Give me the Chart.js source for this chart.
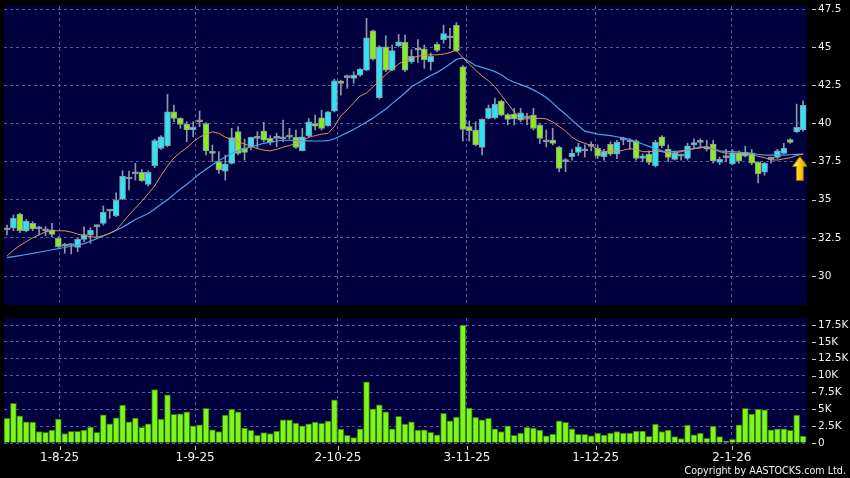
<!DOCTYPE html>
<html><head><meta charset="utf-8">
<script src="https://cdn.jsdelivr.net/npm/chart.js@4.4.1/dist/chart.umd.min.js"></script>
<style>
html,body{margin:0;padding:0;background:#000;width:850px;height:478px;overflow:hidden}
#wrap{position:relative;width:850px;height:478px}
canvas{position:absolute;left:0}
#c1{top:0}
#c2{top:310px}
#copy{position:absolute;right:4px;top:465px;color:#f2f2f2;font:9.6px 'DejaVu Sans',Verdana,sans-serif;line-height:12px;white-space:nowrap}
</style></head><body>
<div id="wrap">
<canvas id="c1" width="850" height="310"></canvas>
<canvas id="c2" width="850" height="168"></canvas>
<div id="copy">Copyright by AASTOCKS.com Ltd.</div>
</div>
<script>
// ---- data ----
const openP = [33.02,33.13,34.06,32.95,33.45,33.10,32.97,33.02,32.47,31.95,32.00,31.88,32.40,32.67,33.24,33.45,34.25,33.95,35.03,36.36,
36.70,36.80,36.01,37.24,38.37,38.54,40.77,40.33,39.94,39.57,40.11,40.00,38.15,37.49,36.88,37.38,39.46,38.37,38.47,39.02,
39.50,39.02,39.02,39.00,39.10,39.09,38.21,39.19,40.00,40.37,39.86,40.81,42.78,43.00,42.96,43.17,43.50,46.08,41.69,45.03,
43.50,45.10,45.32,44.05,44.80,44.89,44.03,45.18,45.50,45.62,46.45,43.72,39.79,39.57,38.43,40.33,40.37,41.47,40.59,40.62,
40.22,40.37,40.55,39.90,38.80,38.91,38.43,37.50,37.82,38.11,38.21,38.50,38.37,37.82,38.65,37.99,38.91,38.80,38.86,37.71,
37.99,37.21,39.13,38.32,37.65,37.86,37.71,38.59,38.76,38.47,38.65,37.45,37.76,37.34,38.04,37.86,38.08,37.45,36.80,37.65,
37.78,38.04,38.95,39.44,39.57];
const highP = [33.34,34.00,34.13,33.71,33.56,33.28,33.24,33.45,32.58,32.14,32.10,32.47,33.23,33.17,33.34,34.59,34.37,35.46,36.90,36.88,
37.39,36.98,36.90,38.97,39.20,41.91,41.21,40.38,40.11,40.11,40.82,40.05,38.59,38.15,37.93,39.68,39.79,38.97,39.10,39.46,
40.07,39.20,39.35,40.22,39.68,39.57,39.68,40.33,40.55,40.88,40.80,42.90,42.85,43.17,43.39,43.60,46.89,46.12,45.10,45.75,
45.14,45.84,45.80,44.84,45.50,45.14,44.62,45.30,46.45,46.23,46.61,43.80,40.16,40.11,40.30,41.21,41.66,41.53,40.65,40.99,
40.99,40.66,40.99,40.00,39.57,39.68,38.50,37.70,38.30,38.70,38.60,38.80,38.60,38.30,38.80,38.90,39.10,39.00,38.95,38.00,
38.20,38.90,39.20,38.60,38.20,38.00,38.70,39.00,39.00,38.90,38.90,37.80,38.30,38.30,38.20,38.50,38.30,37.50,37.45,37.80,
38.30,38.70,39.00,41.27,41.49];
const lowP = [32.69,32.97,32.84,32.90,32.97,32.69,32.63,32.58,31.88,31.49,31.45,31.60,32.25,32.14,32.58,33.34,33.78,33.89,35.00,35.64,
36.29,36.20,35.90,37.10,38.30,38.47,40.11,39.68,38.80,39.13,39.79,37.93,37.49,36.73,36.29,37.34,37.93,37.60,38.26,38.37,
38.80,38.60,38.47,38.80,38.97,38.37,38.20,39.10,39.57,39.57,39.80,40.75,41.86,42.30,42.63,43.10,43.45,44.15,41.60,43.39,
43.45,45.03,43.39,43.94,44.00,43.61,43.50,44.70,45.25,44.92,44.70,38.85,38.85,38.54,37.93,40.30,40.30,40.50,39.90,39.90,
40.11,39.90,39.57,38.69,38.47,38.59,36.84,36.84,37.60,37.90,37.80,38.20,37.70,37.60,37.90,37.70,38.60,38.30,37.60,37.50,
37.30,37.15,38.40,37.50,37.60,37.60,37.60,38.40,38.40,38.20,37.40,37.30,37.50,37.30,37.40,37.80,37.30,36.10,36.60,37.40,
37.70,38.00,38.70,39.40,39.50];
const closeP = [33.02,33.78,32.97,33.60,33.08,33.20,32.97,32.73,31.92,31.95,32.00,32.40,32.71,32.99,33.24,34.17,34.25,34.98,36.53,36.47,
36.70,36.25,36.80,38.88,39.13,40.77,40.33,39.94,39.57,39.74,40.11,38.20,38.04,36.95,37.34,39.08,38.04,38.11,39.09,39.02,
38.90,38.76,39.02,39.00,39.10,38.43,39.13,40.11,39.83,39.68,40.77,42.80,42.63,43.00,43.17,43.57,45.62,44.22,45.03,43.50,
44.77,45.35,43.50,44.40,44.80,44.19,44.40,44.79,45.90,45.62,44.75,39.61,39.53,38.59,40.27,40.99,41.25,40.55,40.27,40.29,
40.70,40.37,39.68,39.02,38.80,38.69,37.06,37.50,38.04,38.47,38.21,38.50,37.86,38.15,37.99,38.76,38.91,38.80,37.71,37.88,
37.45,38.76,38.52,37.78,38.08,37.86,38.54,38.74,38.76,38.32,37.54,37.65,37.76,38.08,37.54,38.11,37.39,36.69,37.39,37.65,
38.21,38.37,38.76,39.74,41.19];
const volumeK = [3.65,5.87,4.04,3.15,3.10,1.68,1.58,1.92,3.55,1.38,1.72,1.72,1.92,2.37,1.58,4.19,2.86,3.75,5.62,3.15,
3.70,2.32,2.86,7.93,3.55,7.15,4.24,4.34,4.63,2.56,2.71,5.13,1.97,1.68,4.14,5.03,4.63,2.22,1.87,1.13,
1.53,1.38,1.77,3.45,3.45,2.96,2.56,2.86,3.10,2.91,3.25,6.41,2.07,1.13,0.79,2.12,9.07,5.08,5.67,4.63,
2.12,3.94,2.81,3.15,1.92,1.97,1.58,1.23,4.39,3.30,3.84,17.50,5.17,3.80,3.45,3.65,2.12,1.68,2.56,1.13,
1.48,2.32,2.22,1.92,1.08,1.33,3.30,3.06,2.12,1.28,1.28,1.08,1.48,1.18,1.48,1.68,1.48,1.48,1.77,1.77,
0.99,2.81,1.68,1.92,0.94,0.64,2.66,1.23,1.48,0.69,2.51,0.94,0.30,0.54,2.71,5.13,4.29,5.03,4.93,1.97,
2.12,2.12,1.87,4.14,1.03];
const maShort = [31.3,31.7,32.0,32.25,32.5,32.7,32.9,32.95,32.97,32.96,32.88,32.75,32.65,32.58,32.54,32.65,32.8,33.0,33.5,34.0,
34.45,34.9,35.4,35.9,36.6,37.2,37.75,38.1,38.4,38.8,39.1,39.3,39.45,39.35,39.1,38.95,38.8,38.65,38.5,38.35,
38.25,38.2,38.3,38.45,38.55,38.7,38.85,39.1,39.2,39.3,39.35,39.8,40.5,40.9,41.35,41.8,42.0,42.4,42.8,43.2,
43.55,43.9,44.15,44.3,44.4,44.48,44.5,44.5,44.55,44.65,44.8,44.3,43.9,43.5,43.1,42.8,42.4,41.85,41.3,40.75,
40.3,40.3,40.33,40.33,40.3,40.1,39.8,39.5,39.1,38.85,38.7,38.55,38.3,38.15,38.2,38.15,38.25,38.35,38.3,38.15,
38.15,38.2,38.15,38.05,38.05,38.15,38.25,38.35,38.4,38.47,38.35,38.15,38.05,38.04,38.04,38.04,37.95,37.85,37.75,37.62,
37.6,37.68,37.75,37.9,38.0];
const maLong = [31.2,31.27,31.34,31.41,31.48,31.56,31.64,31.72,31.8,31.87,31.95,32.03,32.12,32.28,32.45,32.62,32.8,33.0,33.2,33.45,
33.7,33.9,34.1,34.4,34.7,35.0,35.35,35.7,36.0,36.35,36.7,37.0,37.3,37.55,37.8,38.05,38.2,38.35,38.47,38.58,
38.7,38.78,38.85,38.9,38.9,38.88,38.87,38.86,38.85,38.85,38.87,39.0,39.2,39.4,39.6,39.85,40.1,40.35,40.65,40.95,
41.3,41.65,42.0,42.4,42.65,42.9,43.15,43.35,43.6,43.9,44.2,44.3,44.05,43.8,43.68,43.55,43.4,43.2,42.9,42.7,
42.55,42.4,42.2,41.97,41.7,41.35,40.95,40.6,40.22,39.85,39.5,39.4,39.3,39.25,39.2,39.13,39.05,38.95,38.8,38.65,
38.5,38.35,38.2,38.15,38.15,38.2,38.25,38.35,38.45,38.47,38.3,38.2,38.17,38.15,38.12,38.08,38.04,37.98,37.93,37.93,
37.93,37.93,37.95,37.97,37.99];
const dateLabels = ['1-8-25','1-9-25','2-10-25','3-11-25','1-12-25','2-1-26'];
const dateTickPos = [8.2,29.3,51.55,71.65,91.7,112.9];
const priceTicks = [30,32.5,35,37.5,40,42.5,45,47.5];
const priceTickLabels = ['30','32.5','35','37.5','40','42.5','45','47.5'];
const volTicks = [0,2.5,5,7.5,10,12.5,15,17.5];
const volTickLabels = ['0','2.5K','5K','7.5K','10K','12.5K','15K','17.5K'];
const arrowMark = {x:123.5, y:37.05};

// ---- styling ----
const FONT = "'DejaVu Sans', Verdana, sans-serif";
const GRID = 'rgba(120,120,175,0.75)';
const UP = '#2fe3f3', DOWN = '#88ec1e', DOJI = '#9aa3b2';
const X_MIN = -0.467, X_MAX = 124.61;

const idx = closeP.map((_, i) => i);
function candleColor(i){ const d = closeP[i] - openP[i]; if (Math.abs(d) < 0.005) return DOJI; return d > 0 ? UP : DOWN; }

const panelBg = { id:'panelBg', beforeDraw(chart){ const {ctx, chartArea:a} = chart; ctx.save(); ctx.fillStyle = '#00003e'; ctx.fillRect(a.left, a.top, a.right-a.left, a.bottom-a.top); ctx.restore(); } };
const tickDash = { id:'tickDash', afterDraw(chart, args, opts){
  const ctx = chart.ctx; ctx.save(); ctx.strokeStyle = '#c8c8c8'; ctx.lineWidth = 1;
  const ys = chart.scales.y, r = chart.chartArea.right;
  ys.ticks.forEach(t => { const p = Math.round(ys.getPixelForValue(t.value)) + 0.5; ctx.beginPath(); ctx.moveTo(r+5, p); ctx.lineTo(r+9, p); ctx.stroke(); });
  if (opts && opts.xTicks) { const xs = chart.scales.x, b = chart.chartArea.bottom;
    xs.ticks.forEach(t => { const p = Math.round(xs.getPixelForValue(t.value)) + 0.5; ctx.beginPath(); ctx.moveTo(p, b+3); ctx.lineTo(p, b+7); ctx.stroke(); }); }
  ctx.restore(); } };

function makeArrow(){
  const c = document.createElement('canvas'); c.width = 16; c.height = 25;
  const g = c.getContext('2d');
  g.beginPath(); g.moveTo(8,0.5); g.lineTo(15.5,10.5); g.lineTo(11.5,10.5); g.lineTo(11.5,24.5); g.lineTo(4.5,24.5); g.lineTo(4.5,10.5); g.lineTo(0.5,10.5); g.closePath();
  const gr = g.createLinearGradient(0,0,16,0); gr.addColorStop(0,'#fff4a0'); gr.addColorStop(0.45,'#ffd21a'); gr.addColorStop(1,'#d89400');
  g.fillStyle = gr; g.fill(); g.strokeStyle = '#9a6c00'; g.lineWidth = 1; g.stroke();
  return c;
}
function zeroPad(s){ s.paddingTop = 0; s.paddingBottom = 0; s.paddingLeft = 0; s.paddingRight = 0; }

const xCommon = (showLabels, h) => ({
  type:'linear', min:X_MIN, max:X_MAX, offset:false,
  afterBuildTicks: s => { s.ticks = dateTickPos.map(v => ({value:v})); },
  afterFit: s => { s.height = h; zeroPad(s); },
  ticks:{ display:showLabels, autoSkip:false, maxRotation:0, color:'#f0f0f0', font:{family:FONT, size:12}, padding:8,
          callback:(v, i) => dateLabels[i] },
  grid:{ color:GRID, drawTicks:false, offset:false, lineWidth:1 },
  border:{ display:false, dash:[3,3] }
});
const yCommon = (min, max, tickVals, tickLabels) => ({
  type:'linear', position:'right', min:min, max:max,
  afterBuildTicks: s => { s.ticks = tickVals.map(v => ({value:v})); },
  afterFit: s => { s.width = 43; zeroPad(s); },
  ticks:{ autoSkip:false, color:'#f0f0f0', font:{family:FONT, size:10.5}, padding:11, callback:(v, i) => tickLabels[i] },
  grid:{ color:GRID, drawTicks:false }, border:{ display:false, dash:[3,3] }
});

// ---- price chart ----
new Chart(document.getElementById('c1'), {
  type:'bar',
  data:{ datasets:[
    { type:'scatter', data:[arrowMark], pointStyle:makeArrow(), pointRadius:8, order:0 },
    { type:'line', data: idx.map(i => ({x:i, y:maShort[i]})), borderColor:'#e2915c', borderWidth:1, pointRadius:0, tension:0, order:1 },
    { type:'line', data: idx.map(i => ({x:i, y:maLong[i]})), borderColor:'#46a4ec', borderWidth:1.2, pointRadius:0, tension:0, order:2 },
    { type:'bar', data: idx.map(i => ({x:i, y:[openP[i], closeP[i]]})), backgroundColor: idx.map(candleColor), borderColor:'#8b97a8', borderWidth:1, borderSkipped:false, barThickness:6, minBarLength:2, grouped:false, order:3 },
    { type:'bar', data: idx.map(i => ({x:i, y:[lowP[i], highP[i]]})), backgroundColor:'#8e97a8', borderWidth:0, barThickness:1, grouped:false, order:4 }
  ]},
  options:{
    responsive:false, animation:false, devicePixelRatio:1,
    layout:{ autoPadding:false, padding:{ left:4, top:6, right:0, bottom:5 } },
    plugins:{ legend:{display:false}, tooltip:{enabled:false}, tickDash:{xTicks:false} },
    scales:{ x: xCommon(false, 0), y: yCommon(28.10, 47.70, priceTicks, priceTickLabels) }
  },
  plugins:[panelBg, tickDash]
});

// ---- volume chart ----
new Chart(document.getElementById('c2'), {
  type:'bar',
  data:{ datasets:[
    { type:'bar', data: idx.map(i => ({x:i, y:volumeK[i]})), backgroundColor:'#7ff51e', borderColor:'#2f700c', borderWidth:1, barThickness:6, grouped:false }
  ]},
  options:{
    responsive:false, animation:false, devicePixelRatio:1,
    layout:{ autoPadding:false, padding:{ left:4, top:8, right:0, bottom:0 } },
    plugins:{ legend:{display:false}, tooltip:{enabled:false}, tickDash:{xTicks:true} },
    scales:{ x: xCommon(true, 35), y: yCommon(0, 18.54, volTicks, volTickLabels) }
  },
  plugins:[panelBg, tickDash]
});
</script>
</body></html>
